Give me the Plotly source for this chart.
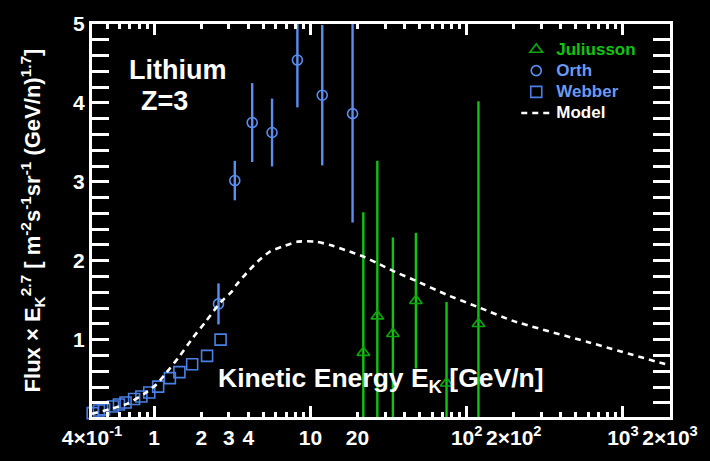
import plotly.graph_objects as go

# Webber (squares)
webber_e = [0.404, 0.443, 0.478, 0.545, 0.595, 0.656, 0.744, 0.828, 0.930, 1.06,
            1.26, 1.45, 1.75, 2.18, 2.66]
webber_f = [0.069, 0.103, 0.116, 0.153, 0.179, 0.204, 0.249, 0.279, 0.330, 0.405,
            0.513, 0.589, 0.689, 0.795, 1.0]

# Orth (circles) with symmetric errors
orth_e = [2.58, 3.28, 4.24, 5.68, 8.25, 11.9, 18.6]
orth_f = [1.453, 3.016, 3.751, 3.625, 4.543, 4.098, 3.864]
orth_err = [0.26, 0.25, 0.50, 0.43, 0.60, 0.89, 1.38]

# Juliusson (triangles) with symmetric errors
jul_e = [21.8, 26.8, 33.7, 47.3, 74.3, 118.9]
jul_f = [0.836, 1.298, 1.075, 1.494, 0.447, 1.201]
jul_err = [1.78, 1.97, 1.22, 0.86, 1.03, 2.82]

# Propagation model curve
model_e = [0.4, 0.415, 0.53, 0.67, 0.86, 1.04, 1.2, 1.46, 1.77, 2.15, 2.6, 2.7, 3.15,
           3.36, 3.9, 4.6, 5.5, 6.6, 8.3, 10.8, 13.4, 16.7, 21.8, 26.8, 33.7, 47.3,
           74.3, 119, 200, 600, 2000]
model_f = [0.06, 0.069, 0.123, 0.186, 0.312, 0.438, 0.585, 0.795, 1.025, 1.235, 1.453,
           1.487, 1.613, 1.696, 1.843, 1.99, 2.116, 2.179, 2.242, 2.242, 2.199, 2.136,
           2.053, 1.969, 1.872, 1.746, 1.570, 1.411, 1.235, 0.968, 0.673]

# Axis labels
x_label_vals = [0.4, 1, 2, 3, 4, 10, 20, 100, 200, 1000, 2000]
x_label_text = ["4×10<sup>-1</sup>", "1", "2", "3", "4", "10", "20",
                "10<sup>2</sup>", "2×10<sup>2</sup>", "10<sup>3</sup>", "2×10<sup>3</sup>"]
x_decades = [1, 10, 100, 1000]
x_minor = [0.5, 0.6, 0.7, 0.8, 0.9, 5, 6, 7, 8, 9, 30, 40, 50, 60, 70, 80, 90,
           300, 400, 500, 600, 700, 800, 900]
y_ticks = [1, 2, 3, 4, 5]

GREEN = "#12c412"
GREEN_D = "#0ea80e"
BLUE = "#5a8ef0"
BLUE_W = "#4a80e6"
FONT = "Liberation Sans"


def legend_name(text, color):
    return f"<span style='color:{color};font-size:17px'>{text}</span>"


fig = go.Figure()

fig.add_trace(go.Scatter(
    x=jul_e, y=jul_f, mode="markers",
    name=legend_name("Juliusson", GREEN),
    marker=dict(symbol="triangle-up-open", size=11, color=GREEN_D, line=dict(width=1.6)),
    error_y=dict(type="data", array=jul_err, color=GREEN, thickness=2.4, width=0),
))

fig.add_trace(go.Scatter(
    x=orth_e, y=orth_f, mode="markers",
    name=legend_name("Orth", "#6a9af2"),
    marker=dict(symbol="circle-open", size=10, color=BLUE, line=dict(width=1.6)),
    error_y=dict(type="data", array=orth_err, color=BLUE, thickness=2.4, width=0),
))

fig.add_trace(go.Scatter(
    x=webber_e, y=webber_f, mode="markers", cliponaxis=False,
    name=legend_name("Webber", "#6a9af2"),
    marker=dict(symbol="square-open", size=11, color=BLUE_W, line=dict(width=1.6)),
))

fig.add_trace(go.Scatter(
    x=model_e, y=model_f, mode="lines", name=legend_name("Model", "white"),
    line=dict(color="white", width=2.6, dash="6px,5px", shape="spline", smoothing=0.6),
))

axis_common = dict(
    showgrid=False, zeroline=False, linecolor="white", linewidth=3,
    ticks="inside", tickcolor="white", tickwidth=2.5, mirror="allticks",
    tickfont=dict(family=FONT, size=21, color="white", weight="bold"),
)

fig.update_layout(
    width=710, height=461,
    margin=dict(l=92, r=33, t=24, b=41),
    paper_bgcolor="black", plot_bgcolor="black",
    font=dict(family=FONT, color="white"),
    showlegend=True,
    legend=dict(
        x=0.734, y=0.975, xanchor="left", yanchor="top",
        bgcolor="rgba(0,0,0,0)", tracegroupgap=0,
        font=dict(family=FONT, size=14, color="white", weight="bold"),
        itemwidth=30,
    ),
    xaxis=dict(
        type="log", range=[-0.39794, 3.30103],
        tickmode="array", tickvals=x_label_vals, ticktext=x_label_text, ticklen=5,
        minor=dict(tickmode="array", tickvals=x_minor, ticks="inside", ticklen=5,
                   tickcolor="white", tickwidth=2.5),
        **axis_common,
    ),
    xaxis2=dict(
        type="log", overlaying="x", matches="x", side="bottom",
        range=[-0.39794, 3.30103],
        tickmode="array", tickvals=x_decades, ticks="inside", ticklen=11,
        tickcolor="white", tickwidth=2.5, mirror="allticks",
        showticklabels=False, showline=False, showgrid=False, zeroline=False,
    ),
    yaxis=dict(
        range=[0.02, 5], tickmode="array", tickvals=y_ticks, ticklen=17,
        minor=dict(dtick=0.2, tick0=0, ticks="inside", ticklen=9,
                   tickcolor="white", tickwidth=2.5),
        title=dict(
            text="Flux × E<sub>K</sub><sup>2.7</sup> [ m<sup>-2</sup>s<sup>-1</sup>sr<sup>-1</sup> (GeV/n)<sup>1.7</sup>]",
            font=dict(family=FONT, size=22, color="white", weight="bold"),
            standoff=27,
        ),
        **axis_common,
    ),
)

# invisible trace to activate the overlaid decade-tick axis
fig.add_trace(go.Scatter(x=[1], y=[None], xaxis="x2", showlegend=False,
                         hoverinfo="skip", mode="markers"))

# text labels placed in pixel units, converted to paper fractions below
labels = [
    (179, 70, "Lithium", 27),
    (165, 102, "Z=3", 27),
    (385, 383, "Kinetic Energy E<sub>K</sub> [GeV/n]", 26.5),
]
L, R, T, B = 92, 677, 24, 420
for px, py, text, size in labels:
    fig.add_annotation(
        x=(px - L) / (R - L), y=(B - py) / (B - T), xref="paper", yref="paper",
        xanchor="center", yanchor="middle", text=text, showarrow=False,
        font=dict(family=FONT, size=size, color="white", weight="bold"),
    )

fig.write_html("out.html")
